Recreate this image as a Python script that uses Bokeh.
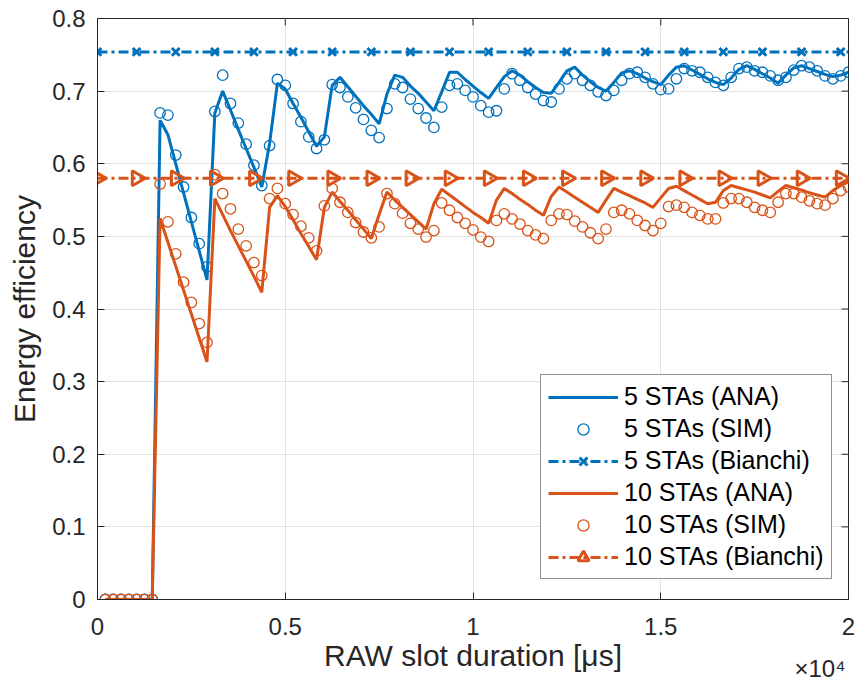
import numpy as np
from bokeh.plotting import figure
from bokeh.models import Range1d, Legend, LegendItem, FixedTicker, Title
from bokeh.embed import file_html
from bokeh.resources import INLINE

# ---------------- data ----------------
N_STEPS = 96
X_MAX = 20000.0
SLOT_US = [X_MAX * k / N_STEPS for k in range(1, N_STEPS + 1)]   # RAW slot duration grid [us]

ANA_5 = [0, 0, 0, 0, 0, 0, 0,
         0.660, 0.640, 0.600, 0.560, 0.520, 0.480, 0.440,
         0.670, 0.700, 0.674, 0.647, 0.621, 0.595, 0.568,
         0.628, 0.711, 0.703, 0.683, 0.664, 0.644, 0.624,
         0.637, 0.708, 0.719, 0.706, 0.693, 0.680, 0.668,
         0.655, 0.696, 0.722, 0.719, 0.707, 0.697, 0.685,
         0.673, 0.699, 0.726, 0.726, 0.716, 0.707, 0.698,
         0.690, 0.705, 0.720, 0.728, 0.722, 0.713, 0.705,
         0.698, 0.697, 0.712, 0.728, 0.733, 0.722, 0.713,
         0.705, 0.700, 0.712, 0.725, 0.728, 0.724, 0.718,
         0.713, 0.709, 0.722, 0.733, 0.735, 0.729, 0.723,
         0.717, 0.712, 0.709, 0.718, 0.730, 0.735, 0.730,
         0.724, 0.718, 0.711, 0.722, 0.732, 0.735, 0.731,
         0.727, 0.723, 0.720, 0.722, 0.726]

SIM_5 = [0, 0, 0, 0, 0, 0, 0,
         0.670, 0.667, 0.612, 0.568, 0.526, 0.490, 0.458,
         0.672, 0.722, 0.683, 0.656, 0.627, 0.598, 0.570,
         0.625, 0.716, 0.708, 0.683, 0.658, 0.637, 0.621,
         0.633, 0.709, 0.705, 0.692, 0.677, 0.661, 0.646,
         0.636, 0.676, 0.710, 0.705, 0.689, 0.676, 0.663,
         0.650, 0.678, 0.708, 0.710, 0.701, 0.692, 0.680,
         0.671, 0.673, 0.703, 0.724, 0.715, 0.705, 0.696,
         0.687, 0.685, 0.703, 0.717, 0.724, 0.715, 0.708,
         0.699, 0.694, 0.701, 0.715, 0.724, 0.726, 0.719,
         0.710, 0.702, 0.703, 0.717, 0.731, 0.728, 0.726,
         0.719, 0.712, 0.708, 0.719, 0.731, 0.733, 0.728,
         0.726, 0.721, 0.715, 0.719, 0.729, 0.735, 0.733,
         0.728, 0.721, 0.717, 0.721, 0.726]

ANA_10 = [0, 0, 0, 0, 0, 0, 0,
          0.525, 0.492, 0.459, 0.426, 0.393, 0.360, 0.327,
          0.552, 0.530, 0.508, 0.487, 0.466, 0.445, 0.423,
          0.540, 0.556, 0.541, 0.523, 0.504, 0.486, 0.468,
          0.540, 0.561, 0.548, 0.536, 0.523, 0.510, 0.497,
          0.530, 0.561, 0.550, 0.540, 0.530, 0.520, 0.510,
          0.545, 0.565, 0.557, 0.549, 0.541, 0.533, 0.526,
          0.518, 0.550, 0.566, 0.559, 0.551, 0.544, 0.536,
          0.529, 0.555, 0.568, 0.561, 0.554, 0.547, 0.540,
          0.533, 0.550, 0.566, 0.561, 0.556, 0.551, 0.546,
          0.540, 0.553, 0.566, 0.569, 0.563, 0.557, 0.551,
          0.545, 0.547, 0.563, 0.570, 0.567, 0.564, 0.561,
          0.557, 0.553, 0.562, 0.570, 0.567, 0.564, 0.560,
          0.557, 0.554, 0.563, 0.570, 0.575]

SIM_10 = [0, 0, 0, 0, 0, 0, 0,
          0.572, 0.520, 0.476, 0.437, 0.409, 0.380, 0.354,
          0.585, 0.559, 0.538, 0.510, 0.487, 0.464, 0.446,
          0.552, 0.566, 0.545, 0.530, 0.514, 0.498, 0.480,
          0.542, 0.566, 0.547, 0.533, 0.519, 0.506, 0.498,
          0.513, 0.559, 0.545, 0.532, 0.518, 0.510, 0.499,
          0.508, 0.546, 0.536, 0.526, 0.518, 0.509, 0.499,
          0.493, 0.522, 0.531, 0.524, 0.517, 0.508, 0.502,
          0.497, 0.522, 0.531, 0.530, 0.521, 0.513, 0.505,
          0.497, 0.510, 0.533, 0.536, 0.531, 0.522, 0.515,
          0.508, 0.518, 0.541, 0.543, 0.540, 0.533, 0.529,
          0.524, 0.524, 0.546, 0.552, 0.552, 0.547, 0.540,
          0.536, 0.533, 0.547, 0.559, 0.559, 0.554, 0.549,
          0.545, 0.543, 0.552, 0.563, 0.568]

BIANCHI_5 = 0.754
BIANCHI_10 = 0.580
BIANCHI_X = [0.0] + SLOT_US
MARK_EVERY = 5

LABELS = ["5 STAs (ANA)", "5 STAs (SIM)", "5 STAs (Bianchi)",
          "10 STAs (ANA)", "10 STAs (SIM)", "10 STAs (Bianchi)"]
X_LABEL = "RAW slot duration [\u03bcs]"
Y_LABEL = "Energy efficiency"
X_EXPONENT = "\u00d710\u2074"

X_TICKS = [0, 5000, 10000, 15000, 20000]
X_TICK_LABELS = ["0", "0.5", "1", "1.5", "2"]
Y_TICKS = [0, 0.1, 0.2, 0.3, 0.4, 0.5, 0.6, 0.7, 0.8]
Y_TICK_LABELS = ["0", "0.1", "0.2", "0.3", "0.4", "0.5", "0.6", "0.7", "0.8"]

# ---------------- style ----------------
FONT = "Liberation Sans"
TXT = "#262626"
BLUE = "#0072BD"
ORANGE = "#D95319"
TICK_FS = "24px"
LABEL_FS = "30px"
LEG_FS = "25px"
EXP_FS = "24px"
FRAME_W, FRAME_H = 751, 581
TICK_PX = 7

x_lo, x_hi = 0, 20000
y_lo, y_hi = 0, 0.8

p = figure(frame_width=FRAME_W, frame_height=FRAME_H,
           x_range=Range1d(x_lo, x_hi), y_range=Range1d(y_lo, y_hi),
           output_backend="svg", toolbar_location=None,
           min_border_left=97, min_border_right=8,
           min_border_top=18, min_border_bottom=89)
p.background_fill_color = "white"
p.border_fill_color = "white"
p.outline_line_color = TXT
p.outline_line_width = 1

xa = p.xaxis[0]
xa.ticker = FixedTicker(ticks=X_TICKS)
xa.major_label_overrides = {t: l for t, l in zip(X_TICKS, X_TICK_LABELS)}
xa.major_label_standoff = 18
xa.axis_label = X_LABEL
xa.axis_label_standoff = 1
ya = p.yaxis[0]
ya.ticker = FixedTicker(ticks=Y_TICKS)
ya.major_label_overrides = {t: l for t, l in zip(Y_TICKS, Y_TICK_LABELS)}
ya.major_label_standoff = 12
ya.axis_label = Y_LABEL
ya.axis_label_standoff = 8
for ax in (xa, ya):
    ax.axis_line_color = TXT
    ax.axis_line_width = 1
    ax.major_tick_line_color = TXT
    ax.major_tick_in = TICK_PX
    ax.major_tick_out = 0
    ax.minor_tick_line_color = None
    ax.major_label_text_font = FONT
    ax.major_label_text_font_size = TICK_FS
    ax.major_label_text_color = TXT
    ax.axis_label_text_font = FONT
    ax.axis_label_text_font_size = LABEL_FS
    ax.axis_label_text_font_style = "normal"
    ax.axis_label_text_color = TXT

# exponent of the x axis, below the axis at the right end
p.add_layout(Title(text=X_EXPONENT, align="right", vertical_align="top", offset=3,
                   standoff=-40, text_font=FONT, text_font_size=EXP_FS,
                   text_font_style="normal", text_color=TXT), "below")

p.xgrid.ticker = FixedTicker(ticks=X_TICKS)
p.ygrid.ticker = FixedTicker(ticks=Y_TICKS)
for g in (p.xgrid, p.ygrid):
    g.grid_line_color = "#e2e2e2"
    g.grid_line_width = 1

# inward ticks on the top and right box edges (mirroring the axes)
dx = TICK_PX / FRAME_W * (x_hi - x_lo)
dy = TICK_PX / FRAME_H * (y_hi - y_lo)
p.segment(x0=X_TICKS, y0=[y_hi] * len(X_TICKS), x1=X_TICKS, y1=[y_hi - dy] * len(X_TICKS),
          line_color=TXT, line_width=1)
p.segment(x0=[x_hi] * len(Y_TICKS), y0=Y_TICKS, x1=[x_hi - dx] * len(Y_TICKS), y1=Y_TICKS,
          line_color=TXT, line_width=1)

DASHDOT = "10 4 3 4"

# ---------------- series ----------------
r_ana5 = p.line(SLOT_US, ANA_5, line_color=BLUE, line_width=3)
r_sim5 = p.scatter(SLOT_US, SIM_5, marker="circle", size=10.5, fill_color=None,
                   line_color=BLUE, line_width=1.3)
r_b5l = p.line(BIANCHI_X, [BIANCHI_5] * len(BIANCHI_X), line_color=BLUE, line_width=3,
               line_dash=DASHDOT)
r_b5m = p.scatter(BIANCHI_X[::MARK_EVERY], [BIANCHI_5] * len(BIANCHI_X[::MARK_EVERY]),
                  marker="x", size=11, line_color=BLUE, line_width=3)

r_ana10 = p.line(SLOT_US, ANA_10, line_color=ORANGE, line_width=3)
r_sim10 = p.scatter(SLOT_US, SIM_10, marker="circle", size=10.5, fill_color=None,
                    line_color=ORANGE, line_width=1.3)
r_b10l = p.line(BIANCHI_X, [BIANCHI_10] * len(BIANCHI_X), line_color=ORANGE, line_width=3,
                line_dash=DASHDOT)
r_b10m = p.scatter(BIANCHI_X[::MARK_EVERY], [BIANCHI_10] * len(BIANCHI_X[::MARK_EVERY]),
                   marker="triangle", angle=-np.pi / 2, size=15, fill_color=None,
                   line_color=ORANGE, line_width=3)

legend = Legend(items=[
    LegendItem(label=LABELS[0], renderers=[r_ana5]),
    LegendItem(label=LABELS[1], renderers=[r_sim5]),
    LegendItem(label=LABELS[2], renderers=[r_b5l, r_b5m]),
    LegendItem(label=LABELS[3], renderers=[r_ana10]),
    LegendItem(label=LABELS[4], renderers=[r_sim10]),
    LegendItem(label=LABELS[5], renderers=[r_b10l, r_b10m]),
], location=(443, 20))
legend.border_line_color = TXT
legend.border_line_width = 1
legend.background_fill_color = "white"
legend.background_fill_alpha = 1
legend.label_text_font = FONT
legend.label_text_font_size = LEG_FS
legend.label_text_color = "black"
legend.glyph_width = 70
legend.glyph_height = 28
legend.label_height = 28
legend.spacing = 3
legend.padding = 7
legend.margin = 0
legend.label_standoff = 6
p.add_layout(legend)

open("out.html", "w").write(file_html(p, INLINE))
